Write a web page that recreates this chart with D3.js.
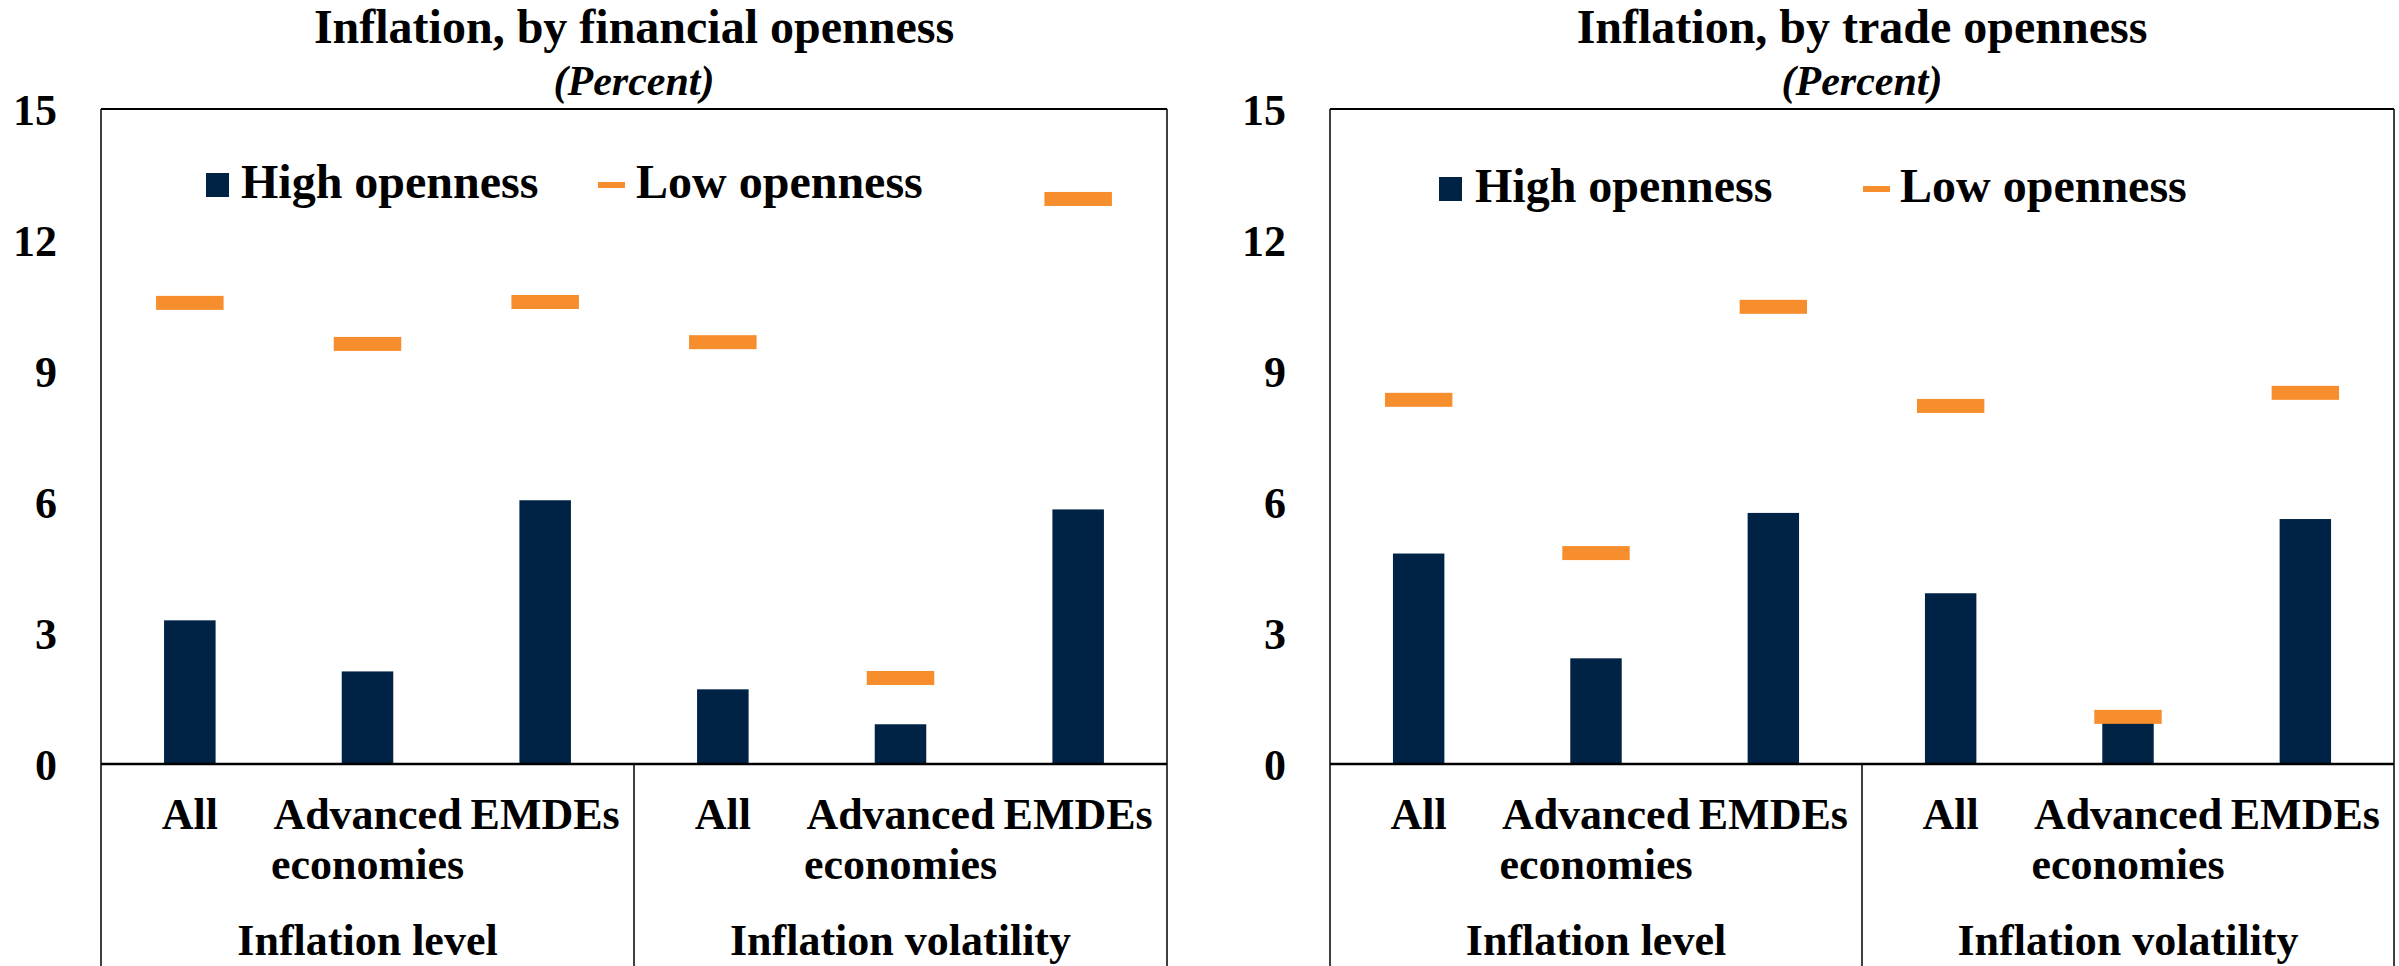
<!DOCTYPE html>
<html>
<head>
<meta charset="utf-8">
<script src="https://cdn.jsdelivr.net/npm/d3@7"></script>
<style>
  body { margin: 0; background: #fff; }
  svg text { font-family: "Liberation Serif", "Times New Roman", serif; font-weight: bold; fill: #000; }
</style>
</head>
<body>
<div id="chart"></div>
<script>
// category labels (each entry is a list of lines)
var categories = [["All"], ["Advanced", "economies"], ["EMDEs"], ["All"], ["Advanced", "economies"], ["EMDEs"]];
var groups = ["Inflation level", "Inflation volatility"];
var seriesNames = ["High openness", "Low openness"];
var yTicks = [0, 3, 6, 9, 12, 15];

// financial openness panel
var finHigh = [3.29, 2.12, 6.04, 1.71, 0.91, 5.83];
var finLow = [10.56, 9.62, 10.58, 9.66, 1.97, 12.94];

// trade openness panel
var tradeHigh = [4.82, 2.42, 5.75, 3.91, 1.0, 5.61];
var tradeLow = [8.34, 4.83, 10.47, 8.20, 1.08, 8.50];

var navy = "#002245", orange = "#F68E2D";
var W = 2399, H = 966;

var svg = d3.select("#chart").append("svg")
    .attr("width", W)
    .attr("height", H);

drawPanel({title: "Inflation, by financial openness", left: 101, right: 1167,
    high: finHigh, low: finLow, legendX: [206, 598], legendTextX: [241, 636], legendY: 198});
drawPanel({title: "Inflation, by trade openness", left: 1330, right: 2394,
    high: tradeHigh, low: tradeLow, legendX: [1439, 1863], legendTextX: [1475, 1900], legendY: 202});

function drawPanel(p) {
    var top = 109, bottom = 764;

    var y = d3.scaleLinear().domain([0, 15]).range([bottom, top]);
    var x = d3.scaleBand().domain(d3.range(categories.length)).range([p.left, p.right]);
    var bw = x.bandwidth();
    var cx = function(i) { return x(i) + bw / 2; };
    var mid = (p.left + p.right) / 2;

    var g = svg.append("g");

    // titles
    g.append("text")
        .attr("x", mid).attr("y", 43)
        .attr("text-anchor", "middle")
        .style("font-size", "48px")
        .text(p.title);
    g.append("text")
        .attr("x", mid).attr("y", 95)
        .attr("text-anchor", "middle")
        .style("font-size", "42px")
        .style("font-style", "italic")
        .text("(Percent)");

    // y axis labels
    var yAxis = d3.axisLeft(y).tickValues(yTicks).tickSize(0).tickPadding(44);
    var ya = g.append("g")
        .attr("transform", "translate(" + p.left + ",0)")
        .call(yAxis);
    ya.select(".domain").remove();
    ya.selectAll("text")
        .attr("dy", "0.35em")
        .style("font-size", "44px");

    // bars
    g.selectAll(".bar")
        .data(p.high)
        .enter().append("rect")
        .attr("class", "bar")
        .attr("x", function(d, i) { return cx(i) - bw * 0.145; })
        .attr("width", bw * 0.29)
        .attr("y", function(d) { return y(d); })
        .attr("height", function(d) { return y(0) - y(d); })
        .attr("fill", navy);

    // low openness markers
    g.selectAll(".mark")
        .data(p.low)
        .enter().append("rect")
        .attr("class", "mark")
        .attr("x", function(d, i) { return cx(i) - bw * 0.19; })
        .attr("width", bw * 0.38)
        .attr("y", function(d) { return y(d) - 7; })
        .attr("height", 14)
        .attr("fill", orange);

    // plot frame
    var line = function(x1, y1, x2, y2, w) {
        g.append("line")
            .attr("x1", x1).attr("y1", y1).attr("x2", x2).attr("y2", y2)
            .attr("stroke", "#000").attr("stroke-width", w);
    };
    line(p.left, top, p.right, top, 2);
    line(p.left, top, p.left, H, 1.5);
    line(p.right, top, p.right, H, 1.5);
    line(p.left, y(0), p.right, y(0), 2.5);
    line(x(3), y(0), x(3), H, 1.5);

    // category labels
    categories.forEach(function(lines, i) {
        var t = g.append("text")
            .attr("text-anchor", "middle")
            .style("font-size", "44px");
        lines.forEach(function(s, k) {
            t.append("tspan")
                .attr("x", cx(i))
                .attr("y", 829 + k * 50)
                .text(s);
        });
    });

    // group labels
    groups.forEach(function(s, k) {
        var gx = (x(k * 3) + x(k * 3 + 2) + bw) / 2;
        g.append("text")
            .attr("x", gx).attr("y", 955)
            .attr("text-anchor", "middle")
            .style("font-size", "44px")
            .text(s);
    });

    // legend
    g.append("rect")
        .attr("x", p.legendX[0]).attr("y", p.legendY - 25)
        .attr("width", 23).attr("height", 24)
        .attr("fill", navy);
    g.append("rect")
        .attr("x", p.legendX[1]).attr("y", p.legendY - 16)
        .attr("width", 27).attr("height", 6)
        .attr("fill", orange);
    seriesNames.forEach(function(s, k) {
        g.append("text")
            .attr("x", p.legendTextX[k]).attr("y", p.legendY)
            .style("font-size", "48px")
            .text(s);
    });
}
</script>
</body>
</html>
